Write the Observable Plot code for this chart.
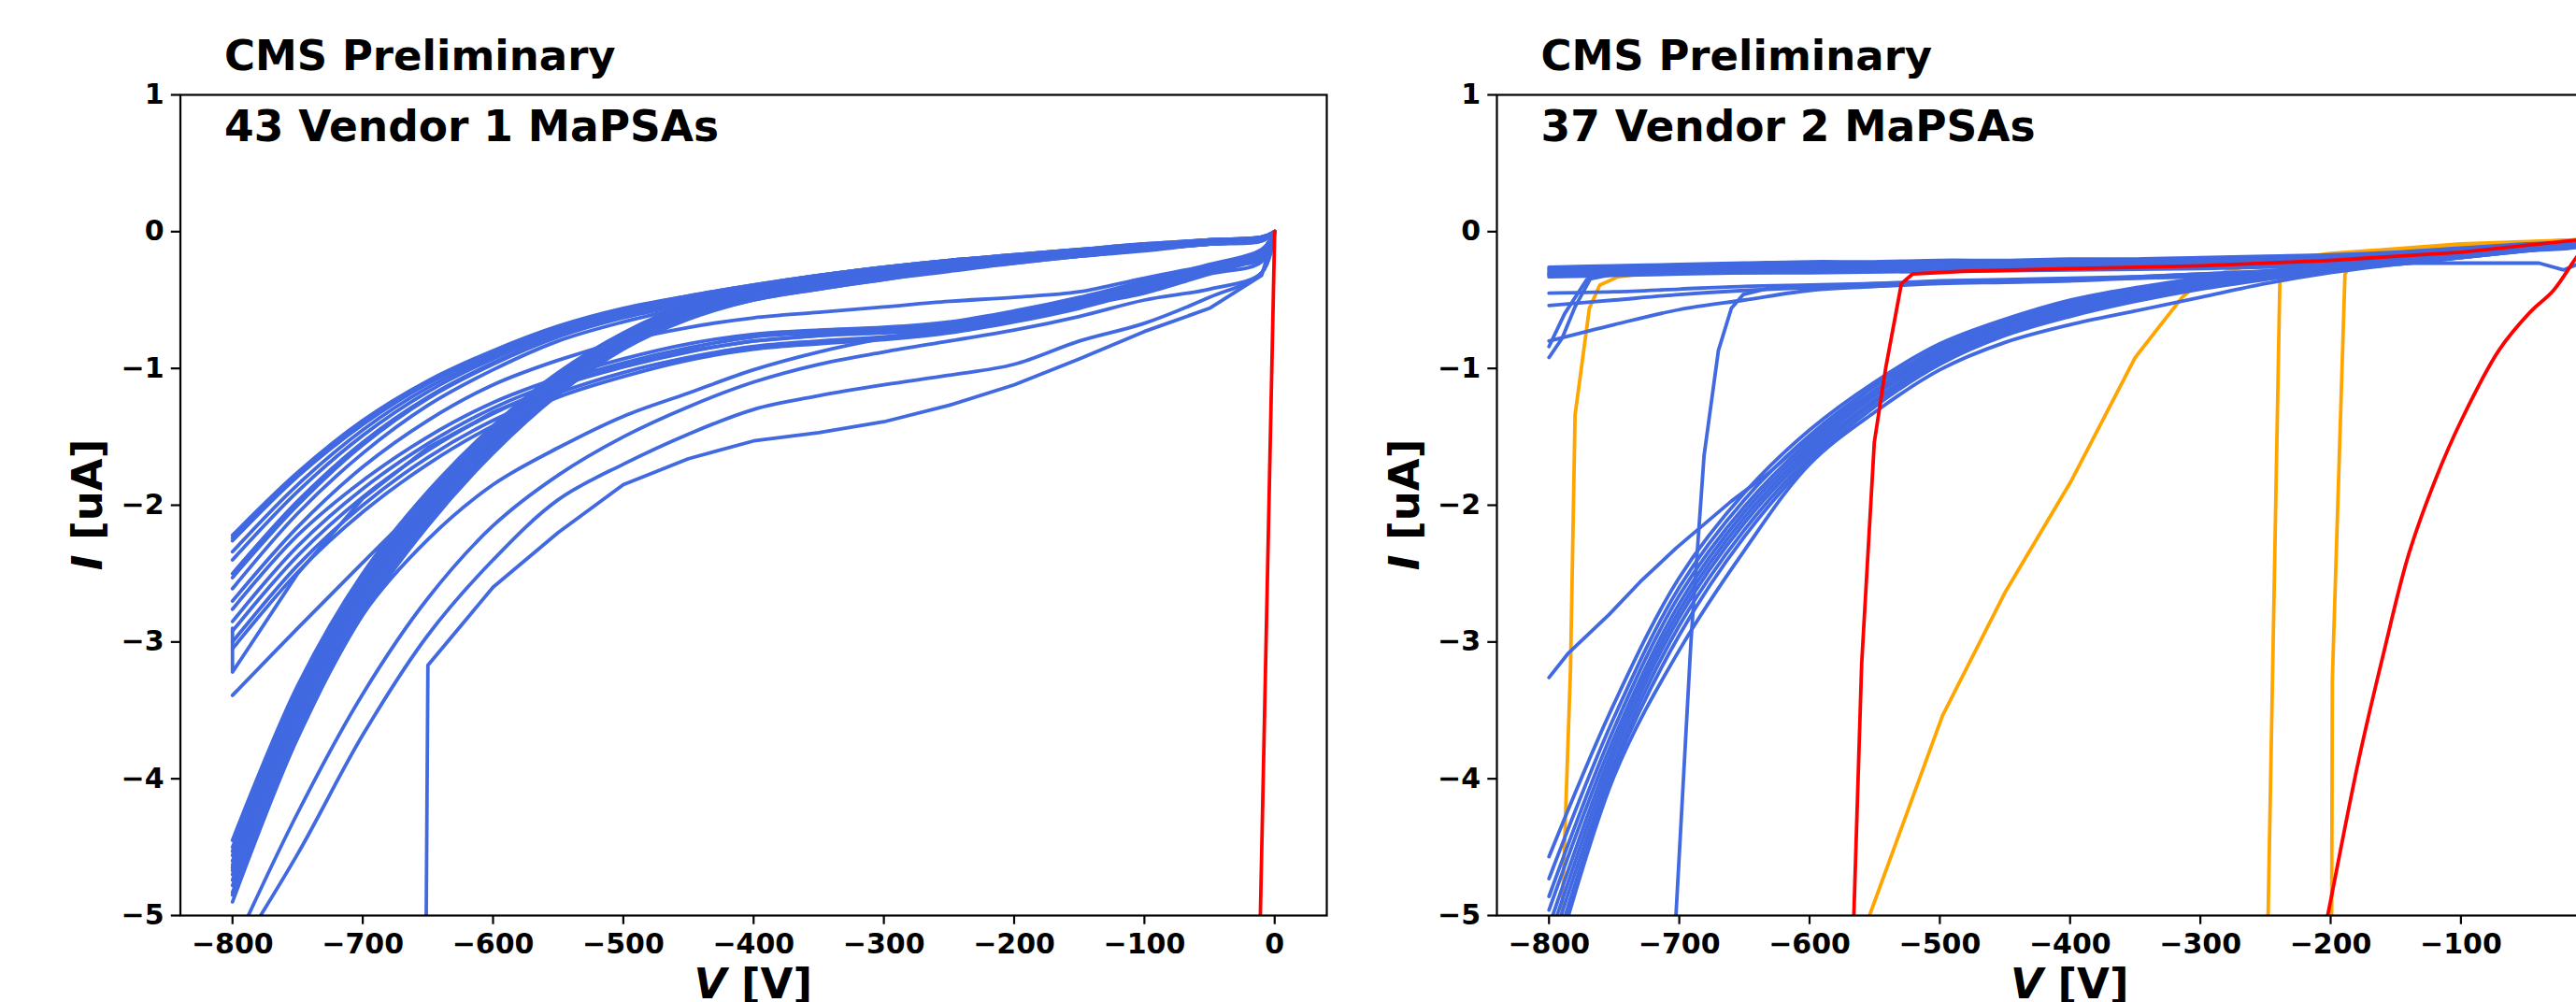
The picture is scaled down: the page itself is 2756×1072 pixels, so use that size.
<!DOCTYPE html>
<html>
<head>
<meta charset="utf-8">
<script src="https://cdn.jsdelivr.net/npm/d3@7"></script>
<script src="https://cdn.jsdelivr.net/npm/@observablehq/plot@0.6"></script>
<style>
html, body { margin: 0; padding: 0; background: #fff; overflow: hidden; }
#wrap { position: relative; width: 2756px; height: 1072px; overflow: hidden; background: #fff; }
#wrap svg { position: absolute; top: 0; }
</style>
</head>
<body>
<div id="wrap"></div>
<script>
// ---------- shared axes ----------
const voltGrid = [0, -10, -50, -100, -150, -200, -250, -300, -350, -400, -450, -500, -550, -600, -650, -700, -750, -800];
const xTicksLeft = [-800, -700, -600, -500, -400, -300, -200, -100, 0];
const xTicksRight = [-800, -700, -600, -500, -400, -300, -200, -100];
const yTicks = [-5, -4, -3, -2, -1, 0, 1];
const headText = "CMS Preliminary";
const leftSub = "43 Vendor 1 MaPSAs";
const rightSub = "37 Vendor 2 MaPSAs";

// ---------- Vendor 1 (left) : currents on voltGrid ----------
const v1Top = [
  [0, -0.04, -0.06, -0.09, -0.13, -0.17, -0.21, -0.26, -0.32, -0.39, -0.47, -0.56, -0.69, -0.87, -1.09, -1.38, -1.76, -2.22],
  [0, -0.05, -0.07, -0.10, -0.14, -0.18, -0.22, -0.27, -0.33, -0.40, -0.48, -0.57, -0.70, -0.89, -1.11, -1.41, -1.79, -2.26],
  [0, -0.04, -0.06, -0.10, -0.13, -0.17, -0.21, -0.26, -0.32, -0.39, -0.47, -0.57, -0.70, -0.88, -1.10, -1.39, -1.77, -2.24],
  [0, -0.05, -0.07, -0.11, -0.15, -0.19, -0.23, -0.28, -0.34, -0.41, -0.49, -0.59, -0.72, -0.91, -1.14, -1.45, -1.85, -2.34],
  [0, -0.05, -0.07, -0.11, -0.15, -0.19, -0.23, -0.28, -0.35, -0.42, -0.50, -0.60, -0.74, -0.93, -1.17, -1.49, -1.90, -2.40],
  [0, -0.05, -0.08, -0.12, -0.16, -0.20, -0.24, -0.29, -0.36, -0.43, -0.52, -0.62, -0.76, -0.96, -1.21, -1.54, -1.97, -2.50],
  [0, -0.06, -0.08, -0.12, -0.16, -0.20, -0.25, -0.30, -0.37, -0.44, -0.53, -0.63, -0.77, -0.97, -1.22, -1.56, -2.00, -2.53],
  [0, -0.06, -0.09, -0.13, -0.17, -0.21, -0.26, -0.31, -0.38, -0.46, -0.55, -0.66, -0.80, -1.01, -1.27, -1.62, -2.06, -2.61]
];
const v1Band = [
  [0, -0.04, -0.06, -0.09, -0.13, -0.17, -0.21, -0.26, -0.32, -0.40, -0.53, -0.74, -1.03, -1.42, -1.90, -2.50, -3.32, -4.45],
  [0, -0.04, -0.06, -0.10, -0.14, -0.18, -0.22, -0.27, -0.33, -0.41, -0.54, -0.75, -1.05, -1.44, -1.93, -2.53, -3.36, -4.50],
  [0, -0.05, -0.07, -0.10, -0.14, -0.18, -0.23, -0.28, -0.34, -0.42, -0.55, -0.76, -1.06, -1.46, -1.95, -2.56, -3.39, -4.53],
  [0, -0.05, -0.07, -0.11, -0.15, -0.19, -0.24, -0.29, -0.35, -0.43, -0.56, -0.77, -1.07, -1.47, -1.97, -2.58, -3.42, -4.56],
  [0, -0.05, -0.07, -0.11, -0.15, -0.19, -0.24, -0.30, -0.36, -0.44, -0.57, -0.78, -1.08, -1.49, -1.99, -2.60, -3.45, -4.60],
  [0, -0.05, -0.08, -0.11, -0.15, -0.20, -0.25, -0.30, -0.37, -0.45, -0.58, -0.79, -1.10, -1.51, -2.01, -2.63, -3.48, -4.63],
  [0, -0.05, -0.08, -0.11, -0.16, -0.20, -0.25, -0.30, -0.37, -0.45, -0.58, -0.80, -1.10, -1.52, -2.02, -2.64, -3.50, -4.65],
  [0, -0.05, -0.08, -0.12, -0.16, -0.20, -0.25, -0.31, -0.37, -0.45, -0.59, -0.80, -1.11, -1.52, -2.03, -2.65, -3.51, -4.67],
  [0, -0.06, -0.08, -0.12, -0.16, -0.21, -0.26, -0.31, -0.38, -0.46, -0.60, -0.81, -1.12, -1.54, -2.05, -2.68, -3.54, -4.70],
  [0, -0.06, -0.08, -0.12, -0.17, -0.21, -0.26, -0.32, -0.39, -0.47, -0.61, -0.82, -1.14, -1.56, -2.07, -2.70, -3.57, -4.74],
  [0, -0.06, -0.09, -0.13, -0.17, -0.22, -0.27, -0.33, -0.40, -0.48, -0.62, -0.84, -1.16, -1.58, -2.10, -2.74, -3.61, -4.78],
  [0, -0.06, -0.09, -0.13, -0.18, -0.22, -0.28, -0.34, -0.41, -0.49, -0.63, -0.85, -1.17, -1.60, -2.12, -2.77, -3.65, -4.83],
  [0, -0.07, -0.09, -0.14, -0.18, -0.23, -0.28, -0.35, -0.42, -0.50, -0.64, -0.86, -1.19, -1.62, -2.15, -2.80, -3.70, -4.90]
];
const v1Mid = [
  [0, -0.13, -0.24, -0.36, -0.48, -0.58, -0.66, -0.70, -0.72, -0.75, -0.82, -0.93, -1.07, -1.25, -1.50, -1.82, -2.22, -2.76],
  [0, -0.15, -0.26, -0.38, -0.50, -0.60, -0.68, -0.72, -0.74, -0.77, -0.85, -0.96, -1.10, -1.29, -1.55, -1.88, -2.30, -2.85],
  [0, -0.16, -0.27, -0.40, -0.52, -0.62, -0.70, -0.74, -0.76, -0.80, -0.88, -0.99, -1.13, -1.33, -1.60, -1.94, -2.37, -2.92],
  [0, -0.17, -0.28, -0.41, -0.54, -0.64, -0.72, -0.77, -0.80, -0.84, -0.92, -1.03, -1.18, -1.38, -1.65, -2.00, -2.44, -3.00],
  [0, -0.18, -0.30, -0.43, -0.56, -0.66, -0.74, -0.79, -0.82, -0.86, -0.94, -1.06, -1.21, -1.42, -1.70, -2.05, -2.49, -3.05],
  [0, -0.06, -0.09, -0.13, -0.18, -0.23, -0.29, -0.35, -0.42, -0.50, -0.63, -0.83, -1.12, -1.50, -1.95, -2.42, -2.90, -3.39],
  [0, -0.20, -0.25, -0.34, -0.44, -0.48, -0.51, -0.55, -0.59, -0.63, -0.70, -0.80, -0.94, -1.12, -1.38, -1.72, -2.16, -2.70]
];
const v1Low = [
  [0, -0.30, -0.48, -0.67, -0.80, -0.97, -1.05, -1.12, -1.20, -1.30, -1.48, -1.70, -1.96, -2.40, -2.95, -3.68, -4.55, -5.33],
  [0, -0.30, -0.42, -0.50, -0.62, -0.72, -0.80, -0.88, -0.97, -1.10, -1.28, -1.50, -1.78, -2.15, -2.68, -3.38, -4.25, -5.25],
  [0, -0.22, -0.31, -0.45, -0.54, -0.63, -0.70, -0.78, -0.88, -1.01, -1.18, -1.35, -1.58, -1.85, -2.25, -2.80, -3.70, -4.85]
];
// Vendor 1 : irregular curves as [V, I] pairs
const v1Step = [[0, 0], [-10, -0.32], [-50, -0.56], [-100, -0.73], [-150, -0.93], [-200, -1.12], [-250, -1.27], [-300, -1.39], [-350, -1.47], [-400, -1.53], [-450, -1.66], [-500, -1.85], [-550, -2.20], [-600, -2.60], [-650, -3.17], [-652, -6.0]];
const v1Hook = [[0, 0], [-10, -0.16], [-50, -0.27], [-100, -0.39], [-150, -0.51], [-200, -0.61], [-250, -0.69], [-300, -0.73], [-350, -0.76], [-400, -0.80], [-450, -0.87], [-500, -0.98], [-550, -1.12], [-600, -1.32], [-650, -1.58], [-700, -1.95], [-750, -2.50], [-800, -3.22], [-800, -2.90]];
const v1Red = [[0, 0], [-11, -5.0], [-11.6, -5.3]];

// ---------- Vendor 2 (right) : currents on voltGrid ----------
const v2Flat = [
  [-0.04, -0.07, -0.09, -0.12, -0.15, -0.17, -0.18, -0.19, -0.20, -0.20, -0.21, -0.21, -0.22, -0.22, -0.23, -0.24, -0.25, -0.26],
  [-0.04, -0.08, -0.10, -0.13, -0.16, -0.18, -0.19, -0.20, -0.21, -0.21, -0.22, -0.22, -0.23, -0.23, -0.24, -0.25, -0.26, -0.27],
  [-0.05, -0.08, -0.10, -0.14, -0.17, -0.19, -0.20, -0.21, -0.21, -0.22, -0.22, -0.23, -0.23, -0.24, -0.25, -0.26, -0.27, -0.28],
  [-0.05, -0.09, -0.11, -0.15, -0.18, -0.20, -0.21, -0.22, -0.22, -0.23, -0.23, -0.24, -0.24, -0.25, -0.26, -0.27, -0.28, -0.29],
  [-0.05, -0.09, -0.12, -0.16, -0.19, -0.21, -0.22, -0.23, -0.23, -0.24, -0.24, -0.25, -0.25, -0.26, -0.27, -0.28, -0.29, -0.30],
  [-0.06, -0.10, -0.12, -0.16, -0.19, -0.22, -0.23, -0.24, -0.24, -0.25, -0.25, -0.26, -0.26, -0.27, -0.28, -0.29, -0.30, -0.31],
  [-0.06, -0.10, -0.13, -0.17, -0.20, -0.22, -0.24, -0.25, -0.25, -0.26, -0.26, -0.27, -0.27, -0.28, -0.29, -0.30, -0.31, -0.32],
  [-0.06, -0.11, -0.13, -0.18, -0.21, -0.23, -0.25, -0.26, -0.26, -0.27, -0.27, -0.28, -0.28, -0.29, -0.30, -0.31, -0.32, -0.33]
];
const v2Near = [
  [-0.06, -0.10, -0.13, -0.18, -0.22, -0.26, -0.29, -0.31, -0.33, -0.35, -0.36, -0.37, -0.38, -0.39, -0.40, -0.42, -0.44, -0.45],
  [-0.06, -0.10, -0.13, -0.18, -0.23, -0.27, -0.30, -0.32, -0.34, -0.36, -0.37, -0.38, -0.40, -0.41, -0.43, -0.46, -0.50, -0.54],
  [-0.06, -0.11, -0.14, -0.19, -0.24, -0.28, -0.31, -0.33, -0.34, -0.35, -0.36, -0.37, -0.40, -0.43, -0.50, -0.57, -0.68, -0.80]
];
const v2Rise = [
  [-0.05, -0.08, -0.12, -0.17, -0.21, -0.25, -0.29, -0.34, -0.41, -0.50, -0.64, -0.82, -1.10, -1.45, -1.91, -2.53, -3.45, -4.57],
  [-0.05, -0.08, -0.12, -0.17, -0.21, -0.26, -0.30, -0.35, -0.42, -0.52, -0.66, -0.85, -1.13, -1.49, -1.96, -2.60, -3.55, -4.73],
  [-0.05, -0.08, -0.12, -0.17, -0.22, -0.26, -0.31, -0.36, -0.43, -0.53, -0.67, -0.87, -1.16, -1.53, -2.01, -2.66, -3.63, -4.86],
  [-0.05, -0.09, -0.13, -0.18, -0.22, -0.27, -0.32, -0.37, -0.45, -0.55, -0.69, -0.89, -1.18, -1.56, -2.05, -2.72, -3.70, -4.96],
  [-0.05, -0.09, -0.13, -0.18, -0.22, -0.27, -0.32, -0.38, -0.46, -0.56, -0.70, -0.91, -1.20, -1.59, -2.09, -2.77, -3.76, -5.08],
  [-0.06, -0.09, -0.13, -0.18, -0.23, -0.28, -0.33, -0.39, -0.47, -0.58, -0.72, -0.93, -1.23, -1.62, -2.13, -2.82, -3.82, -5.18],
  [-0.06, -0.09, -0.13, -0.18, -0.23, -0.28, -0.34, -0.40, -0.49, -0.60, -0.74, -0.95, -1.25, -1.65, -2.18, -2.88, -3.88, -5.28],
  [-0.06, -0.10, -0.14, -0.19, -0.23, -0.29, -0.35, -0.42, -0.51, -0.62, -0.76, -0.97, -1.28, -1.68, -2.23, -2.95, -3.93, -5.40],
  [-0.06, -0.10, -0.14, -0.19, -0.24, -0.30, -0.38, -0.48, -0.58, -0.68, -0.81, -1.01, -1.32, -1.70, -2.33, -3.06, -3.98, -5.50]
];
// Vendor 2 : irregular curves as [V, I] pairs
const v2Dip = [[0, -0.10], [-11, -0.24], [-21, -0.28], [-40, -0.23], [-140, -0.23], [-200, -0.25], [-300, -0.27], [-400, -0.28], [-500, -0.29], [-600, -0.30], [-700, -0.30], [-800, -0.31]];
const v2KinkA = [[0, -0.05], [-10, -0.09], [-50, -0.12], [-100, -0.17], [-200, -0.21], [-300, -0.24], [-400, -0.26], [-500, -0.27], [-600, -0.28], [-700, -0.30], [-755, -0.31], [-768, -0.34], [-780, -0.55], [-790, -0.78], [-800, -0.92]];
const v2KinkB = [[0, -0.05], [-10, -0.09], [-50, -0.12], [-100, -0.17], [-200, -0.21], [-300, -0.24], [-400, -0.26], [-500, -0.28], [-600, -0.29], [-700, -0.30], [-750, -0.31], [-771, -0.35], [-788, -0.60], [-800, -0.84]];
const v2Slant = [[0, -0.05], [-10, -0.08], [-50, -0.12], [-100, -0.17], [-150, -0.22], [-200, -0.26], [-250, -0.30], [-300, -0.35], [-350, -0.42], [-400, -0.51], [-450, -0.65], [-500, -0.84], [-550, -1.12], [-600, -1.50], [-632, -1.77], [-660, -1.97], [-702, -2.31], [-730, -2.56], [-754, -2.80], [-785, -3.08], [-800, -3.26]];
const v2Break = [[0, -0.06], [-10, -0.10], [-50, -0.13], [-100, -0.18], [-150, -0.22], [-200, -0.26], [-250, -0.29], [-300, -0.31], [-350, -0.33], [-400, -0.34], [-450, -0.35], [-500, -0.36], [-550, -0.38], [-600, -0.40], [-630, -0.41], [-651, -0.46], [-660, -0.56], [-670, -0.87], [-681, -1.64], [-691, -2.99], [-706, -5.6]];
const v2Orange = [
  [[0, -0.04], [-10, -0.06], [-100, -0.10], [-200, -0.17], [-300, -0.22], [-400, -0.25], [-500, -0.26], [-600, -0.27], [-700, -0.29], [-729, -0.31], [-747, -0.33], [-761, -0.39], [-769, -0.56], [-780, -1.34], [-783.5, -3.2], [-791, -5.3]],
  [[0, -0.04], [-10, -0.06], [-100, -0.09], [-200, -0.16], [-250, -0.22], [-280, -0.29], [-303, -0.39], [-314, -0.48], [-350, -0.92], [-399, -1.82], [-449.5, -2.63], [-498, -3.54], [-554, -5.0], [-560, -5.2]],
  [[0, -0.04], [-10, -0.06], [-50, -0.08], [-100, -0.10], [-150, -0.14], [-200, -0.18], [-230, -0.22], [-239, -0.37], [-248, -5.0], [-249, -5.3]],
  [[0, -0.04], [-10, -0.06], [-50, -0.08], [-100, -0.10], [-150, -0.14], [-180, -0.18], [-189, -0.31], [-198.7, -3.28], [-199.3, -5.3]]
];
const v2RedSharp = [
  [[0, -0.05], [-100, -0.15], [-200, -0.21], [-300, -0.25], [-400, -0.27], [-482, -0.29], [-521, -0.31], [-529.5, -0.38], [-541.6, -1.0], [-550.3, -1.54], [-560, -3.16], [-566, -5.0], [-567, -5.3]]
];
const v2RedSoft = [
  [[0, -0.05], [-11.5, -0.19], [-29, -0.43], [-47, -0.59], [-71, -0.87], [-99.7, -1.38], [-118.6, -1.79], [-140.1, -2.36], [-159.3, -3.08], [-178.4, -3.86], [-202.3, -5.0], [-205, -5.12]]
];

// ---------- helpers ----------
const BLUE = "#4169E1", ORANGE = "#FFA500", RED = "#FF0000";
function gridRows(curves, tag) {
  const rows = [];
  curves.forEach((c, i) => c.forEach((I, j) => rows.push({V: voltGrid[j], I, id: tag + i})));
  return rows;
}
function pairRows(curves, tag) {
  const rows = [];
  curves.forEach((c, i) => c.forEach(([V, I]) => rows.push({V, I, id: tag + i})));
  return rows;
}
const lineOpts = (stroke, curve) => ({x: "V", y: "I", z: "id", stroke, strokeWidth: 3.8, clip: true, curve});

const FRAME_W = 1226.5, MT = 101, MB = 93, H = 1072, TICK_FS = 30;

function panel({left, ml, width, marks, sub, xTicks}) {
  const svg = Plot.plot({
    width, height: H,
    marginLeft: ml, marginRight: width - ml - FRAME_W, marginTop: MT, marginBottom: MB,
    x: {domain: [-840, 40]},
    y: {domain: [-5, 1]},
    style: {fontFamily: "'DejaVu Sans', sans-serif", fontSize: TICK_FS + "px", fontWeight: "bold", color: "black", maxWidth: "none", overflow: "visible", background: "white"},
    marks: [
      ...marks,
      Plot.frame({stroke: "black", strokeWidth: 2.2}),
      Plot.axisX(xTicks, {tickSize: 9.7, tickPadding: 9.3, strokeWidth: 2.2, tickFormat: d3.format("d"), label: null, fontSize: TICK_FS}),
      Plot.axisY(yTicks, {tickSize: 9.7, tickPadding: 7.7, strokeWidth: 2.2, tickFormat: d3.format("d"), label: null, fontSize: TICK_FS}),
      Plot.text([headText], {text: d => d, frameAnchor: "top-left", dx: 47, dy: -27, lineAnchor: "bottom", textAnchor: "start", fontSize: 45, fontWeight: "bold"}),
      Plot.text([sub], {text: d => d, frameAnchor: "top-left", dx: 47, dy: 49.4, lineAnchor: "bottom", textAnchor: "start", fontSize: 45.5, fontWeight: "bold"})
    ]
  });
  svg.style.left = left + "px";
  const s = d3.select(svg);
  const yl = s.append("text")
    .attr("transform", `translate(${ml - 83.5},${MT + (H - MT - MB) / 2}) rotate(-90)`)
    .attr("text-anchor", "middle").attr("fill", "black")
    .style("font-size", "45px").style("font-weight", "bold");
  yl.append("tspan").style("font-style", "italic").text("I");
  yl.append("tspan").text(" [uA]");
  const xl = s.append("text")
    .attr("transform", `translate(${ml + FRAME_W / 2},1068)`)
    .attr("text-anchor", "middle").attr("fill", "black")
    .style("font-size", "45px").style("font-weight", "bold");
  xl.append("tspan").style("font-style", "italic").text("V");
  xl.append("tspan").text(" [V]");
  document.getElementById("wrap").appendChild(svg);
}

panel({
  left: 0, ml: 192.5, width: 1430, sub: leftSub, xTicks: xTicksLeft,
  marks: [
    Plot.line(gridRows(v1Top, "t"), lineOpts(BLUE, "catmull-rom")),
    Plot.line(gridRows(v1Band, "b"), lineOpts(BLUE, "catmull-rom")),
    Plot.line(gridRows(v1Mid, "m"), lineOpts(BLUE, "catmull-rom")),
    Plot.line(gridRows(v1Low, "l"), lineOpts(BLUE, "catmull-rom")),
    Plot.line(pairRows([v1Step, v1Hook], "s"), lineOpts(BLUE, "linear")),
    Plot.line(pairRows([v1Red], "r"), lineOpts(RED, "linear"))
  ]
});

panel({
  left: 1430, ml: 171, width: 1408.5, sub: rightSub, xTicks: xTicksRight,
  marks: [
    Plot.line(pairRows(v2Orange, "o"), lineOpts(ORANGE, "linear")),
    Plot.line(gridRows(v2Flat, "f"), lineOpts(BLUE, "catmull-rom")),
    Plot.line(gridRows(v2Near, "n"), lineOpts(BLUE, "catmull-rom")),
    Plot.line(gridRows(v2Rise, "g"), lineOpts(BLUE, "catmull-rom")),
    Plot.line(pairRows([v2Dip, v2KinkA, v2KinkB, v2Slant, v2Break], "p"), lineOpts(BLUE, "linear")),
    Plot.line(pairRows(v2RedSharp, "r"), lineOpts(RED, "linear")),
    Plot.line(pairRows(v2RedSoft, "q"), lineOpts(RED, "catmull-rom"))
  ]
});
</script>
</body>
</html>
